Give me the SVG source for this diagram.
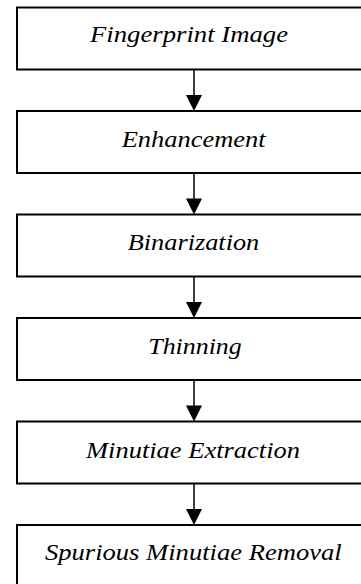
<svg xmlns="http://www.w3.org/2000/svg" width="361" height="584" viewBox="0 0 361 584">
<style>
.box{fill:#fff;stroke:#000;stroke-width:2}
.lbl{font-family:"Liberation Serif",serif;font-style:italic;font-size:23px;fill:#000;text-anchor:middle}
.ln{stroke:#000;stroke-width:1.5;fill:none}
.hd{fill:#000}
</style>
<rect width="361" height="584" fill="#fff"/>
<g id="connectors">
<line class="ln" x1="194" y1="69.5" x2="194" y2="96"/><polygon class="hd" points="186,95 202,95 194,111"/>
<line class="ln" x1="194" y1="173" x2="194" y2="199.5"/><polygon class="hd" points="186,198.5 202,198.5 194,214.5"/>
<line class="ln" x1="194" y1="276.5" x2="194" y2="303"/><polygon class="hd" points="186,302 202,302 194,318"/>
<line class="ln" x1="194" y1="380" x2="194" y2="406.5"/><polygon class="hd" points="186,405.5 202,405.5 194,421.5"/>
<line class="ln" x1="194" y1="483.5" x2="194" y2="510"/><polygon class="hd" points="186,509 202,509 194,525"/>
</g>
<g id="n1"><rect class="box" x="17" y="7.5" width="360" height="62"/><text class="lbl" x="189" y="41.5" textLength="198" lengthAdjust="spacingAndGlyphs">Fingerprint Image</text></g>
<g id="n2"><rect class="box" x="17" y="111" width="360" height="62"/><text class="lbl" x="193.7" y="146.7" textLength="144" lengthAdjust="spacingAndGlyphs">Enhancement</text></g>
<g id="n3"><rect class="box" x="17" y="214.5" width="360" height="62"/><text class="lbl" x="193.5" y="250" textLength="131.6" lengthAdjust="spacingAndGlyphs">Binarization</text></g>
<g id="n4"><rect class="box" x="17" y="318" width="360" height="62"/><text class="lbl" x="195" y="353.5" textLength="93.4" lengthAdjust="spacingAndGlyphs">Thinning</text></g>
<g id="n5"><rect class="box" x="17" y="421.5" width="360" height="62"/><text class="lbl" x="193" y="458" textLength="214" lengthAdjust="spacingAndGlyphs">Minutiae Extraction</text></g>
<g id="n6"><rect class="box" x="17" y="525" width="360" height="62"/><text class="lbl" x="193.3" y="560" textLength="296.7" lengthAdjust="spacingAndGlyphs">Spurious Minutiae Removal</text></g>
</svg>
